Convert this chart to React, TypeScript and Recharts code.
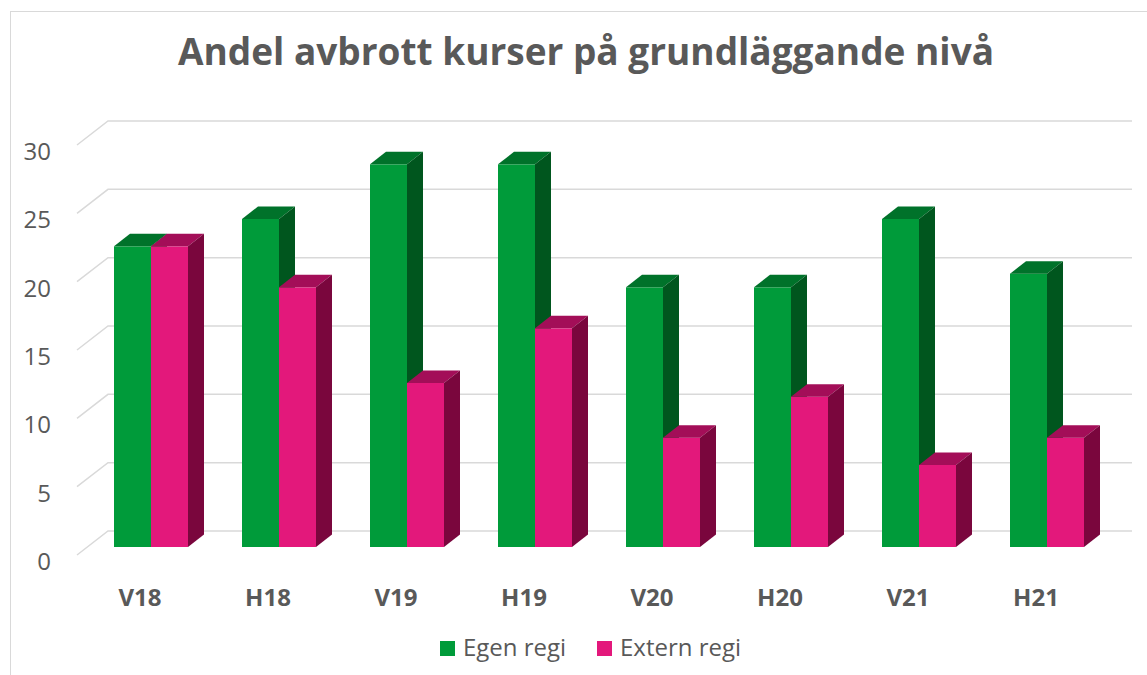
import { Bar, BarChart, CartesianGrid, Legend, XAxis, YAxis } from "recharts";

const terms = ["V18", "H18", "V19", "H19", "V20", "H20", "V21", "H21"];
const egenRegi = [22, 24, 28, 28, 19, 19, 24, 20];
const externRegi = [22, 19, 12, 16, 8, 11, 6, 8];
const yTicks = [0, 5, 10, 15, 20, 25, 30];

const data = terms.map((term, i) => ({
    term,
    egen: egenRegi[i],
    extern: externRegi[i],
}));

const TEXT = "#595959";
const GRID = "#D9D9D9";
const FONT = "'Open Sans', sans-serif";

// depth of a bar and of the floor (in px)
const BAR_DX = 16;
const BAR_DY = 12.5;

const make3dBar = (front: string, side: string, top: string) => (props: any) => {
    const { x, y, width: w, height: h } = props;
    if (h == null || w == null) return <g />;
    return (
        <g>
            <rect x={x} y={y} width={w} height={h} fill={front} />
            <polygon
                points={`${x},${y} ${x + BAR_DX},${y - BAR_DY} ${x + w + BAR_DX},${y - BAR_DY} ${x + w},${y}`}
                fill={top}
            />
            <polygon
                points={`${x + w},${y} ${x + w + BAR_DX},${y - BAR_DY} ${x + w + BAR_DX},${y + h - BAR_DY} ${x + w},${y + h}`}
                fill={side}
            />
        </g>
    );
};

const greenBar = make3dBar("#009B3A", "#00561E", "#00722A");
const pinkBar = make3dBar("#E3187B", "#7A063D", "#A30E58");

const gridLine = (p: any) => (
    <path
        key={`grid-${p.index}`}
        d={`M${p.x1 - 10},${p.y1 + 8}L${p.x1 + 21},${p.y1 - 16}H${p.x2 + 21}`}
        stroke={GRID}
        strokeWidth={1.5}
        fill="none"
    />
);

const YTick = ({ y, payload }: any) => (
    <text x={51} y={y + 23} textAnchor="end" fill={TEXT} fontSize={24} fontFamily={FONT}>
        {payload.value}
    </text>
);

const XTick = ({ x, y, payload }: any) => (
    <text x={x - 11} y={y + 59} textAnchor="middle" fill={TEXT} fontSize={24} fontWeight={700} fontFamily={FONT}>
        {payload.value}
    </text>
);

const LegendContent = () => (
    <svg width={1147} height={40}>
        <rect x={440} y={16} width={15} height={15} fill="#009B3A" />
        <text x={463} y={31} fill={TEXT} fontSize={24} fontFamily={FONT}>Egen regi</text>
        <rect x={597} y={16} width={15} height={15} fill="#E3187B" />
        <text x={620} y={31} fill={TEXT} fontSize={24} fontFamily={FONT}>Extern regi</text>
    </svg>
);

export default function App() {
    return (
        <div style={{ position: "absolute", left: 0, top: 0, width: 1147, height: 675, overflow: "hidden", background: "#fff" }}>
            <div style={{ position: "absolute", left: 10, top: 11, width: 1200, height: 700, border: `1.5px solid ${GRID}` }} />
            <svg width={1147} height={90} style={{ position: "absolute", left: 0, top: 0 }}>
                <text x={586} y={65} textAnchor="middle" fill={TEXT} fontSize={37} fontWeight={700} fontFamily={FONT}>
                    Andel avbrott kurser på grundläggande nivå
                </text>
            </svg>
            <div style={{ position: "absolute", left: 0, top: 0 }}>
                <BarChart
                    width={1147}
                    height={675}
                    data={data}
                    margin={{ top: 137, right: 36, bottom: 98, left: 27 }}
                    barCategoryGap={27}
                    barGap={0}
                >
                    <CartesianGrid vertical={false} horizontal={gridLine} />
                    <XAxis
                        dataKey="term"
                        height={30}
                        axisLine={false}
                        tickLine={false}
                        tickSize={0}
                        tickMargin={0}
                        tick={<XTick />}
                        interval={0}
                    />
                    <YAxis
                        width={60}
                        domain={[0, 30]}
                        ticks={yTicks}
                        axisLine={false}
                        tickLine={false}
                        tick={<YTick />}
                    />
                    <Legend
                        layout="horizontal"
                        verticalAlign="middle"
                        align="center"
                        content={<LegendContent />}
                        wrapperStyle={{ position: "absolute", left: 0, top: 625, width: 1147, height: 40 }}
                    />
                    <Bar dataKey="egen" name="Egen regi" fill="#009B3A" shape={greenBar} isAnimationActive={false} />
                    <Bar dataKey="extern" name="Extern regi" fill="#E3187B" shape={pinkBar} isAnimationActive={false} />
                </BarChart>
            </div>
        </div>
    );
}
